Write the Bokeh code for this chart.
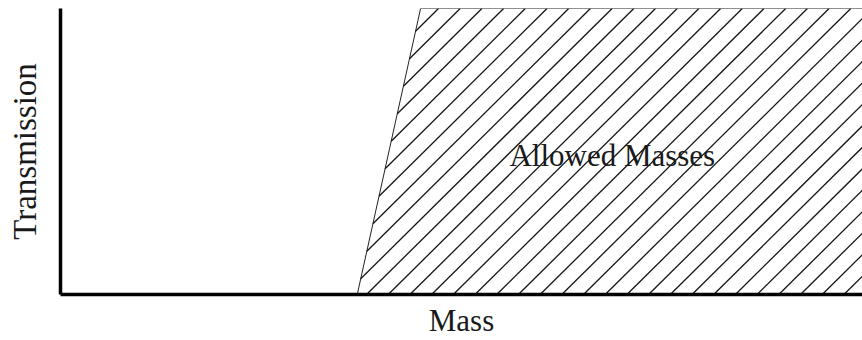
import numpy as np
from bokeh.plotting import figure
from bokeh.models import Range1d, Label, FixedTicker
from bokeh.embed import file_html
from bokeh.resources import INLINE

# Transmission window of a mass filter: everything above the cut-off passes
window_mass = [37.0, 44.9, 102.0, 102.0]
window_transmission = [0.0, 1.0, 1.0, 0.0]

region_label = "Allowed Masses"
region_label_mass = 68.8
region_label_transmission = 0.485

x_label = "Mass"
y_label = "Transmission"

FONT = "Liberation Serif"
INK = "#1a1a1a"

WIDTH, HEIGHT = 862, 340
BORDER_L, BORDER_R, BORDER_T, BORDER_B = 60, 0, 8, 43
X_RANGE = (0.0, 100.0)
Y_RANGE = (0.0, 1.0)

# hatch: 45 degree "/" strokes, spacing and phase in screen pixels
HATCH_STEP = 21.7
HATCH_PHASE = 12.0

frame_w = WIDTH - BORDER_L - BORDER_R
frame_h = HEIGHT - BORDER_T - BORDER_B


def to_px(x, y):
    px = BORDER_L + (np.asarray(x) - X_RANGE[0]) / (X_RANGE[1] - X_RANGE[0]) * frame_w
    py = BORDER_T + (Y_RANGE[1] - np.asarray(y)) / (Y_RANGE[1] - Y_RANGE[0]) * frame_h
    return px, py


def to_data(px, py):
    x = X_RANGE[0] + (np.asarray(px) - BORDER_L) / frame_w * (X_RANGE[1] - X_RANGE[0])
    y = Y_RANGE[1] - (np.asarray(py) - BORDER_T) / frame_h * (Y_RANGE[1] - Y_RANGE[0])
    return x, y


def clip_line(p0, d, poly):
    """Cyrus-Beck clip of the line p0 + t*d against a convex polygon."""
    n = len(poly)
    area = sum(poly[i][0] * poly[(i + 1) % n][1] - poly[(i + 1) % n][0] * poly[i][1]
               for i in range(n))
    sign = 1.0 if area > 0 else -1.0
    t0, t1 = -1e12, 1e12
    for i in range(n):
        a = poly[i]
        b = poly[(i + 1) % n]
        e = b - a
        normal = sign * np.array([-e[1], e[0]])
        num = normal @ (p0 - a)
        den = normal @ d
        if abs(den) < 1e-12:
            if num < 0:
                return None
            continue
        t = -num / den
        if den > 0:
            t0 = max(t0, t)
        else:
            t1 = min(t1, t)
    if t0 >= t1:
        return None
    return p0 + t0 * d, p0 + t1 * d


def hatch_segments(xs, ys):
    px, py = to_px(xs, ys)
    poly = [np.array([a, b]) for a, b in zip(px, py)]
    s = px + py
    k0 = int(np.floor((s.min() - HATCH_PHASE) / HATCH_STEP))
    k1 = int(np.ceil((s.max() - HATCH_PHASE) / HATCH_STEP))
    d = np.array([1.0, -1.0])
    x0s, y0s, x1s, y1s = [], [], [], []
    for k in range(k0, k1 + 1):
        c = HATCH_PHASE + k * HATCH_STEP
        seg = clip_line(np.array([c, 0.0]), d, poly)
        if seg is None:
            continue
        (ax, ay), (bx, by) = seg
        dx0, dy0 = to_data(ax, ay)
        dx1, dy1 = to_data(bx, by)
        x0s.append(float(dx0)); y0s.append(float(dy0))
        x1s.append(float(dx1)); y1s.append(float(dy1))
    return x0s, y0s, x1s, y1s


p = figure(
    width=WIDTH, height=HEIGHT,
    x_range=Range1d(*X_RANGE), y_range=Range1d(*Y_RANGE),
    output_backend="svg", toolbar_location=None,
    min_border_left=BORDER_L, min_border_right=BORDER_R,
    min_border_top=BORDER_T, min_border_bottom=BORDER_B,
)
p.outline_line_color = None
p.xgrid.visible = False
p.ygrid.visible = False
p.background_fill_color = "white"
p.border_fill_color = "white"

# hatched pass band
p.patch(window_mass, window_transmission, fill_color="white",
        line_color="#222222", line_width=1)
hx0, hy0, hx1, hy1 = hatch_segments(window_mass, window_transmission)
p.segment(hx0, hy0, hx1, hy1, line_color="#151515", line_width=1.3)

p.add_layout(Label(
    x=region_label_mass, y=region_label_transmission, text=region_label,
    text_align="center", text_baseline="alphabetic",
    text_font=FONT, text_font_size="31px", text_color=INK,
))

for ax in (p.xaxis[0], p.yaxis[0]):
    ax.ticker = FixedTicker(ticks=[])
    ax.major_tick_line_color = None
    ax.minor_tick_line_color = None
    ax.major_tick_out = 0
    ax.major_tick_in = 0
    ax.minor_tick_out = 0
    ax.major_label_standoff = 0
    ax.axis_line_color = "black"
    ax.axis_line_width = 3.5
    ax.axis_label_text_font = FONT
    ax.axis_label_text_font_style = "normal"
    ax.axis_label_text_color = INK

p.xaxis.axis_label = x_label
p.xaxis.axis_label_text_font_size = "31px"
p.xaxis.axis_label_standoff = 8

p.yaxis.axis_label = y_label
p.yaxis.axis_label_text_font_size = "33px"
p.yaxis.axis_label_standoff = 18

open("out.html", "w").write(file_html(p, INLINE))
